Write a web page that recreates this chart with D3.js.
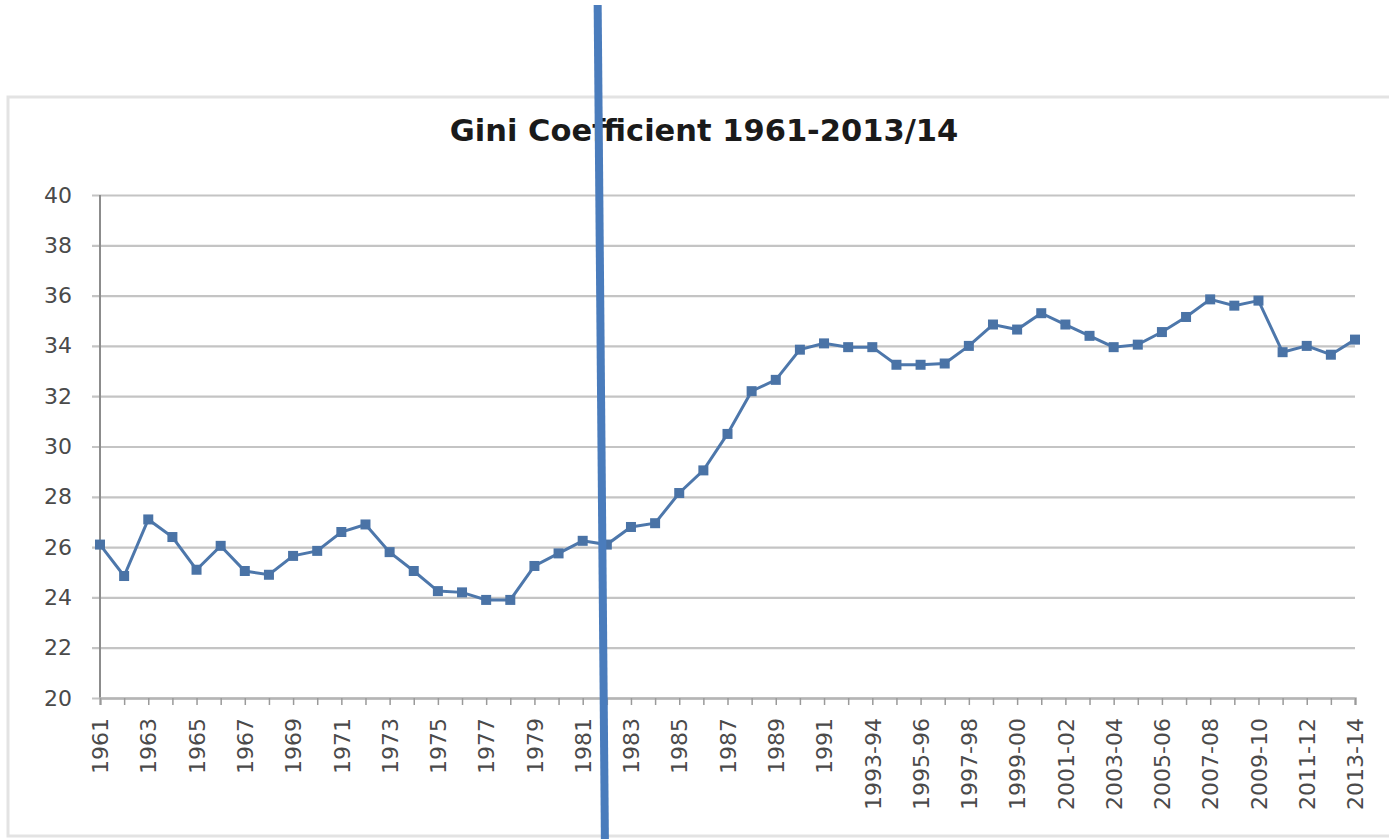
<!DOCTYPE html>
<html>
<head>
<meta charset="utf-8">
<script src="https://cdn.jsdelivr.net/npm/d3@7"></script>
<style>
  html, body { margin: 0; padding: 0; background: #ffffff; }
  svg { display: block; }
</style>
</head>
<body>
<svg id="chart" width="1389" height="839"></svg>
<script>
const title = "Gini Coefficient 1961-2013/14";

const categories = [
  "1961","1962","1963","1964","1965","1966","1967","1968","1969","1970",
  "1971","1972","1973","1974","1975","1976","1977","1978","1979","1980",
  "1981","1982","1983","1984","1985","1986","1987","1988","1989","1990",
  "1991","1992","1993-94","1994-95","1995-96","1996-97","1997-98","1998-99",
  "1999-00","2000-01","2001-02","2002-03","2003-04","2004-05","2005-06",
  "2006-07","2007-08","2008-09","2009-10","2010-11","2011-12","2012-13","2013-14"
];

const giniValues = [
  26.1, 24.85, 27.1, 26.4, 25.1, 26.05, 25.05, 24.9, 25.65, 25.85,
  26.6, 26.9, 25.8, 25.05, 24.25, 24.2, 23.9, 23.9, 25.25, 25.75,
  26.25, 26.1, 26.8, 26.95, 28.15, 29.05, 30.5, 32.2, 32.65, 33.85,
  34.1, 33.95, 33.95, 33.25, 33.25, 33.3, 34.0, 34.85,
  34.65, 35.3, 34.85, 34.4, 33.95, 34.05, 34.55,
  35.15, 35.85, 35.6, 35.8, 33.75, 34.0, 33.65, 34.25
];

const xTickLabels = [
  "1961","1963","1965","1967","1969","1971","1973","1975","1977","1979",
  "1981","1983","1985","1987","1989","1991","1993-94","1995-96","1997-98",
  "1999-00","2001-02","2003-04","2005-06","2007-08","2009-10","2011-12","2013-14"
];

const yTicks = [20, 22, 24, 26, 28, 30, 32, 34, 36, 38, 40];

// annotation marker: a vertical divider between 1981 and 1982 (category-index units)
const dividerIndexTop = 20.62;
const dividerIndexBottom = 20.92;

const svg = d3.select("#chart");
const W = 1389, H = 839;
const plot = { left: 100, right: 1355, top: 195, bottom: 698 };

// frame
svg.append("rect")
  .attr("x", 8).attr("y", 97).attr("width", W + 10).attr("height", 739)
  .attr("fill", "#ffffff").attr("stroke", "#e3e3e3").attr("stroke-width", 3);

const x = d3.scalePoint().domain(categories).range([plot.left, plot.right]);
const xi = d3.scaleLinear().domain([0, categories.length - 1]).range([plot.left, plot.right]);
const y = d3.scaleLinear().domain([20, 40]).range([plot.bottom, plot.top]);

// title
svg.append("text")
  .attr("x", 704).attr("y", 141)
  .attr("text-anchor", "middle")
  .attr("font-family", "DejaVu Sans, sans-serif")
  .attr("font-weight", "bold")
  .attr("font-size", 30.5)
  .attr("fill", "#1a1a1a")
  .text(title);

// gridlines + y axis
const yAxis = d3.axisLeft(y).tickValues(yTicks).tickSize(-(plot.right - plot.left + 8)).tickPadding(30).tickFormat(d3.format("d"));
const gy = svg.append("g").attr("transform", `translate(${plot.left - 8},0)`).call(yAxis);
gy.select(".domain").remove();
gy.selectAll(".tick line").attr("stroke", "#c4c4c4").attr("stroke-width", 2.2);
gy.selectAll(".tick text")
  .attr("x", -20)
  .attr("font-family", "DejaVu Sans, sans-serif")
  .attr("font-size", 22)
  .attr("fill", "#4a4a4a");

// y axis line
svg.append("line")
  .attr("x1", plot.left).attr("x2", plot.left)
  .attr("y1", plot.top).attr("y2", plot.bottom)
  .attr("stroke", "#8c8c8c").attr("stroke-width", 2);

// x axis
const xAxis = d3.axisBottom(x).tickSize(7).tickPadding(10).tickFormat(d => xTickLabels.includes(d) ? d : "");
const gx = svg.append("g").attr("transform", `translate(0,${plot.bottom})`).call(xAxis);
gx.select(".domain").attr("stroke", "#b5b5b5").attr("stroke-width", 2.5);
gx.selectAll(".tick line").attr("stroke", "#9a9a9a").attr("stroke-width", 1.5);
gx.selectAll(".tick text")
  .attr("font-family", "DejaVu Sans, sans-serif")
  .attr("font-size", 22)
  .attr("fill", "#4a4a4a")
  .attr("text-anchor", "end")
  .attr("transform", "rotate(-90)")
  .attr("x", -20).attr("y", 0).attr("dy", "0.35em");

// series line
const line = d3.line().x((d, i) => x(categories[i])).y(d => y(d));
svg.append("path")
  .datum(giniValues)
  .attr("d", line)
  .attr("fill", "none")
  .attr("stroke", "#4d77ab")
  .attr("stroke-width", 3);

// markers
const ms = 10;
svg.append("g").selectAll("rect")
  .data(giniValues)
  .join("rect")
  .attr("x", (d, i) => x(categories[i]) - ms / 2)
  .attr("y", d => y(d) - ms / 2)
  .attr("width", ms).attr("height", ms)
  .attr("fill", "#4a73a6");

// vertical divider annotation
svg.append("line")
  .attr("x1", xi(dividerIndexTop)).attr("y1", 5)
  .attr("x2", xi(dividerIndexBottom)).attr("y2", H)
  .attr("stroke", "#4a7cbc").attr("stroke-width", 8);
</script>
</body>
</html>
